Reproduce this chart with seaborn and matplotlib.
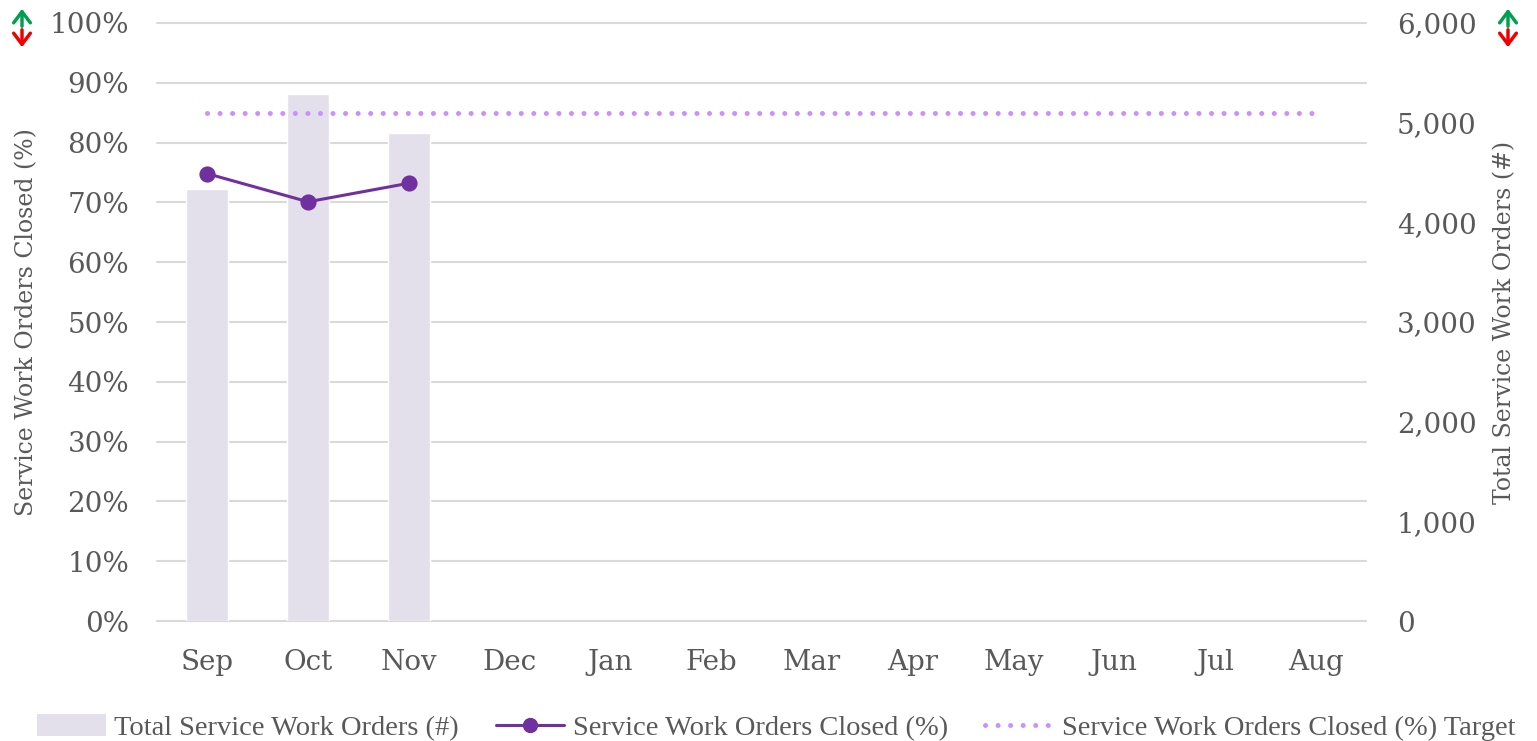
import matplotlib
matplotlib.use("Agg")
import matplotlib.pyplot as plt
from matplotlib.ticker import MultipleLocator, FixedLocator, FuncFormatter
from matplotlib.lines import Line2D
from matplotlib.patches import Patch, FancyArrowPatch
import seaborn as sns

months = ["Sep", "Oct", "Nov", "Dec", "Jan", "Feb", "Mar", "Apr", "May", "Jun", "Jul", "Aug"]
closed_months = ["Sep", "Oct", "Nov"]
total_orders = [4335, 5290, 4895]
closed_pct = [74.8, 70.1, 73.2]
target_pct = [85] * len(months)

BAR_COLOR = "#E3DFEB"
LINE_COLOR = "#7030A0"
TARGET_COLOR = "#CC8FFF"
TEXT_COLOR = "#595959"
GRID_COLOR = "#D9D9D9"

sns.set_theme(style="white")
plt.rcParams["font.family"] = ["DejaVu Serif"]

fig = plt.figure(figsize=(15.37, 7.41), dpi=100)
ax = fig.add_axes([0.1021, 0.1619, 0.7867, 0.8071])
ax2 = ax.twinx()

# bars on the right-hand (count) axis, drawn underneath
sns.barplot(x=closed_months, y=total_orders, order=months, color=BAR_COLOR,
            width=0.42, saturation=1, ax=ax2, zorder=2)
ax2.set_ylim(0, 6000)
ax2.yaxis.set_major_locator(MultipleLocator(1000))
ax2.yaxis.set_minor_locator(FixedLocator([i * 600 for i in range(11)]))
ax2.yaxis.remove_overlapping_locs = False
ax2.yaxis.set_major_formatter(FuncFormatter(lambda v, p: f"{int(v):,}"))
ax2.grid(False)
ax2.grid(which="minor", axis="y", color=GRID_COLOR, linewidth=1.5, zorder=0,
         clip_on=False)
ax2.set_axisbelow(True)
ax2.tick_params(axis="y", which="both", length=0, labelsize=20, colors=TEXT_COLOR, pad=22)
ax2.set_ylabel("Total Service Work Orders (#)", fontsize=17, color=TEXT_COLOR, labelpad=12)

# percentage lines on the left axis, on top
ax.set_zorder(ax2.get_zorder() + 1)
ax.patch.set_visible(False)
sns.pointplot(x=months, y=target_pct, order=months, color=TARGET_COLOR,
              marker="", linestyle=(0, (0.01, 2.5)), linewidth=3.6,
              dash_capstyle="round", errorbar=None, ax=ax)
sns.pointplot(x=closed_months, y=closed_pct, order=months, color=LINE_COLOR,
              marker="o", markersize=10, linewidth=2.2, errorbar=None, ax=ax)
ax.set_ylim(0, 100)
ax.set_xlim(-0.5, len(months) - 0.5)
ax.yaxis.set_major_locator(MultipleLocator(10))
ax.yaxis.set_major_formatter(FuncFormatter(lambda v, p: f"{int(v)}%"))
ax.grid(False)
ax.tick_params(axis="y", length=0, labelsize=20, colors=TEXT_COLOR, pad=20)
ax.tick_params(axis="x", length=0, labelsize=20, colors=TEXT_COLOR, pad=20)
ax.set_xlabel("")
ax.set_ylabel("Service Work Orders Closed (%)", fontsize=17, color=TEXT_COLOR, labelpad=8)

for a in (ax, ax2):
    for s in a.spines.values():
        s.set_visible(False)

handles = [
    Patch(facecolor=BAR_COLOR, edgecolor="none"),
    Line2D([0], [0], color=LINE_COLOR, linewidth=2.2, marker="o", markersize=10),
    Line2D([0], [0], color=TARGET_COLOR, linewidth=3.6, linestyle=(0, (0.01, 2.5)),
           dash_capstyle="round"),
]
labels = ["Total Service Work Orders (#)", "Service Work Orders Closed (%)",
          "Service Work Orders Closed (%) Target"]
fig.legend(handles, labels, loc="center", bbox_to_anchor=(0.505, 0.018), ncol=3,
           frameon=False, handlelength=2.4, handleheight=0.8, columnspacing=1.3,
           handletextpad=0.3, prop={"family": "Liberation Serif", "size": 20.5},
           labelcolor=TEXT_COLOR)

# up/down arrow icons in the top corners
for xf in (22 / 1537, 1508 / 1537):
    fig.add_artist(FancyArrowPatch(
        (xf, 1 - 29 / 741), (xf, 1 - 6 / 741), transform=fig.transFigure,
        arrowstyle="->,head_width=6,head_length=8", color="#00A050", linewidth=2.5))
    fig.add_artist(FancyArrowPatch(
        (xf, 1 - 27 / 741), (xf, 1 - 50 / 741), transform=fig.transFigure,
        arrowstyle="->,head_width=6,head_length=8", color="#F00000", linewidth=2.5))

fig.savefig("out.png", dpi=100)
